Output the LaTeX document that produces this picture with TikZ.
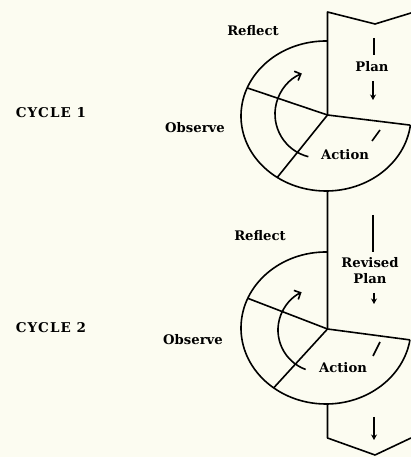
\documentclass[tikz,border=0pt]{standalone}
\usepackage{fontspec}
\setmainfont{DejaVu Serif}
\newfontfamily\cycfont[LetterSpace=8]{DejaVu Serif}
\usetikzlibrary{arrows.meta}
\definecolor{bg}{RGB}{252,252,241}
\begin{document}
\begin{tikzpicture}[x=1pt,y=1pt,
  line/.style={line width=1.6pt, line join=round},
  bar/.style={line width=2.9pt},
  downarrow/.style={line width=1.6pt, -{Stealth[length=5.5pt,width=6pt]}},
  turn/.style={line width=1.6pt, -{Straight Barb[length=5pt,width=10pt]}},
  lbl/.style={font=\bfseries\fontsize{13.2}{16}\selectfont, inner sep=0pt, align=center},
  cyc/.style={font=\cycfont\bfseries\fontsize{13.5}{15}\selectfont, inner sep=0pt}]
\fill[bg] (0,0) rectangle (411,457);
\useasboundingbox (0,0) rectangle (411,457);

% ---------- cycle 1 ----------
\coordinate (c1) at (326,341);
\coordinate (h1) at (327.5,342);
\path (c1) ++(89:85 and 75) coordinate (t1);
\path (c1) ++(271:85 and 75) coordinate (b1);
\path (c1) ++(158:85 and 75) coordinate (ul1);
\path (c1) ++(235:85 and 75) coordinate (ll1);
\path (c1) ++(353:85 and 75) coordinate (r1);
\draw[line] (t1) arc[start angle=89, end angle=353, x radius=85, y radius=75];
\draw[line] (h1) -- (ul1);
\draw[line] (h1) -- (ll1);
\draw[line] (h1) -- (r1);
\coordinate (i1c) at (319,343);
\path (i1c) ++(256:44) coordinate (i1s);
\draw[turn] (i1s) arc[start angle=256, end angle=113, radius=44];
\coordinate (k1a) at (380,327);
\coordinate (k1b) at (372,316);
\draw[line] (k1a) -- (k1b);

% top chevron and main line
\coordinate (tl) at (327.5,445);
\coordinate (tm) at (375,433);
\coordinate (tr) at (411,444);
\draw[line] (tr) -- (tm) -- (tl) -- (h1);

% ---------- cycle 2 ----------
\coordinate (c2) at (326,129);
\coordinate (h2) at (327.5,128);
\path (c2) ++(89:85 and 76) coordinate (t2);
\path (c2) ++(271:85 and 76) coordinate (b2);
\path (c2) ++(157:85 and 76) coordinate (ul2);
\path (c2) ++(232:85 and 76) coordinate (ll2);
\path (c2) ++(351:85 and 76) coordinate (r2);
\draw[line] (t2) arc[start angle=89, end angle=351, x radius=85, y radius=76];
\draw[line] (h2) -- (ul2);
\draw[line] (h2) -- (ll2);
\draw[line] (h2) -- (r2);
\coordinate (i2c) at (320,127);
\path (i2c) ++(250:42) coordinate (i2s);
\draw[turn] (i2s) arc[start angle=250, end angle=116, radius=42];
\coordinate (k2a) at (380,115);
\coordinate (k2b) at (373,101);
\draw[line] (k2a) -- (k2b);

\draw[line] (b1) -- (h2);

% bottom chevron
\coordinate (bl) at (327.5,19);
\coordinate (bm) at (375,2);
\coordinate (br) at (411,19);
\draw[line] (b2) -- (bl) -- (bm) -- (br);

% bars and arrows on the right
\coordinate (p1a) at (374,419);
\coordinate (p1b) at (374,402);
\draw[bar] (p1a) -- (p1b);
\coordinate (a1a) at (373,376);
\coordinate (a1b) at (373,357);
\draw[downarrow] (a1a) -- (a1b);
\coordinate (p2a) at (373,242);
\coordinate (p2b) at (373,205);
\draw[bar] (p2a) -- (p2b);
\coordinate (a2a) at (374,164);
\coordinate (a2b) at (374,153);
\draw[downarrow] (a2a) -- (a2b);
\coordinate (a3a) at (374,40);
\coordinate (a3b) at (374,17);
\draw[downarrow, line width=2.6pt] (a3a) -- (a3b);

% labels
\node[lbl] (reflect1) at (253,426) {Reflect};
\node[lbl] (plan1) at (372,390) {Plan};
\node[lbl] (observe1) at (195,329) {Observe};
\node[lbl] (action1) at (345,302) {Action};
\node[cyc] (cycle1) at (51,344) {CYCLE 1};
\node[lbl] (reflect2) at (260,221) {Reflect};
\node[lbl] (plan2) at (370,186) {Revised\\Plan};
\node[lbl] (observe2) at (193,117) {Observe};
\node[lbl] (action2) at (343,89) {Action};
\node[cyc] (cycle2) at (51,129) {CYCLE 2};
\end{tikzpicture}
\end{document}
